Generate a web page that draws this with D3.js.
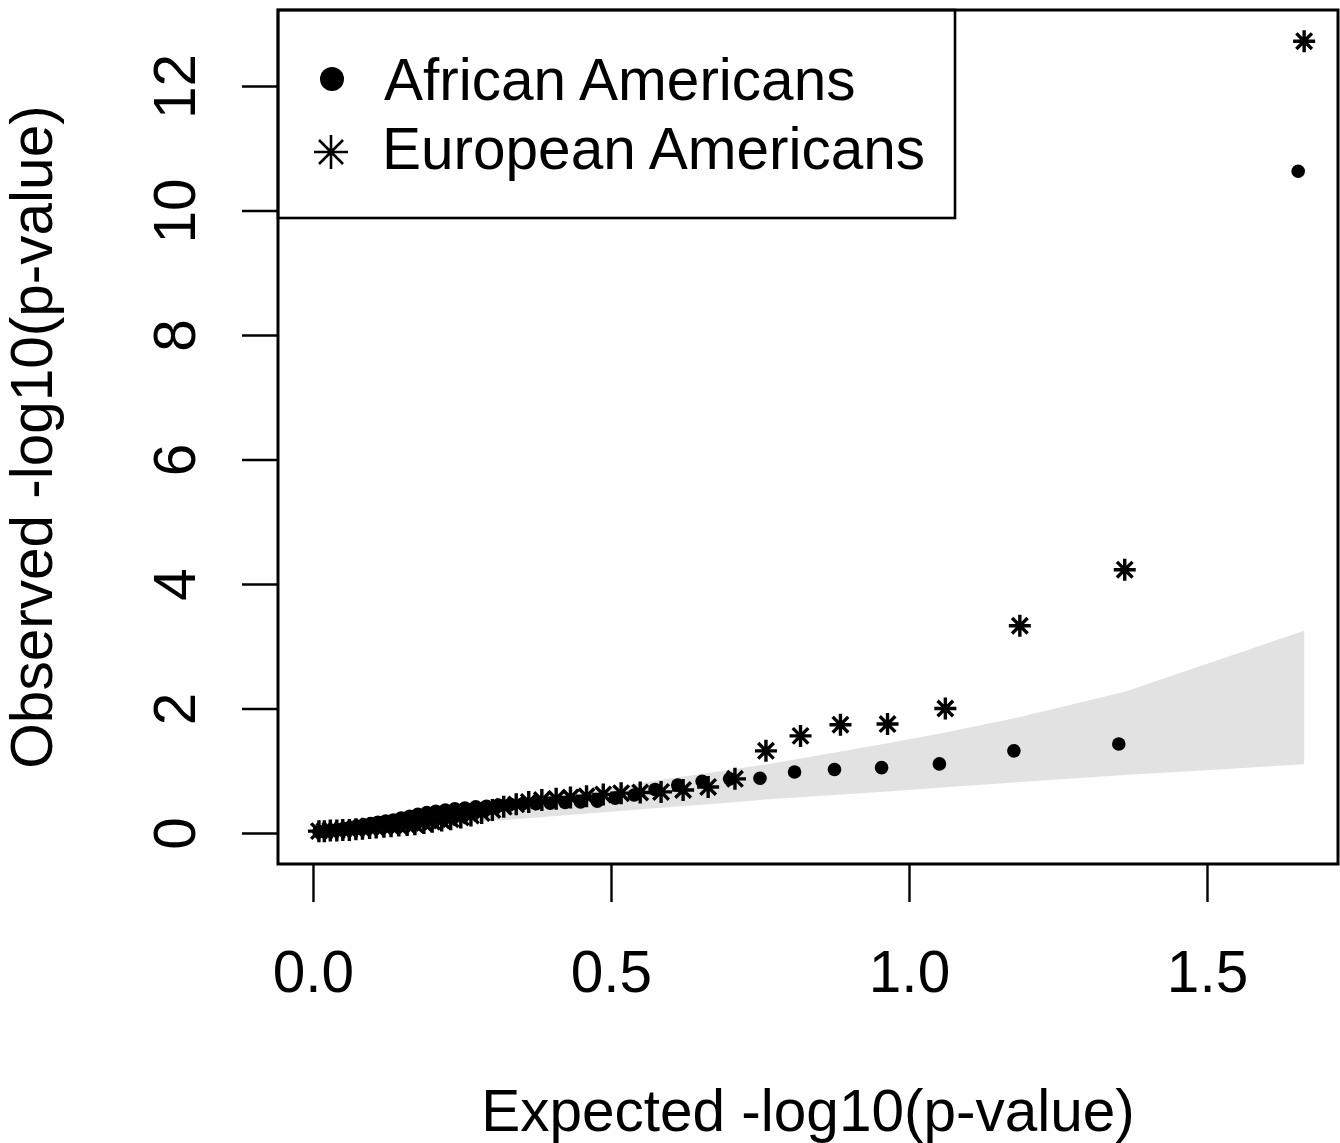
<!DOCTYPE html>
<html>
<head>
<meta charset="utf-8">
<script src="https://cdn.jsdelivr.net/npm/d3@7"></script>
<style>
  html, body { margin: 0; padding: 0; background: #fff; }
  svg { display: block; font-family: "Liberation Sans", Arial, Helvetica, sans-serif; }
</style>
</head>
<body>
<svg id="chart" width="1340" height="1143"></svg>
<script>
// ---- data ----
const seriesNames = ["African Americans", "European Americans"];

const aaExpected = [1.653,1.352,1.176,1.051,0.954,0.875,0.808,0.750,0.699,0.653,0.612,0.574,0.539,0.507,0.477,0.449,0.423,0.398,0.374,0.352,0.331,0.311,0.291,0.273,0.255,0.238,0.222,0.206,0.191,0.176,0.162,0.148,0.135,0.122,0.109,0.097,0.085,0.073,0.062,0.051,0.040,0.030,0.020,0.010];
const aaObserved = [10.63,1.43,1.32,1.11,1.05,1.02,0.98,0.88,0.87,0.83,0.77,0.70,0.61,0.56,0.51,0.50,0.49,0.48,0.47,0.47,0.46,0.45,0.43,0.42,0.40,0.39,0.37,0.35,0.33,0.30,0.27,0.24,0.21,0.19,0.17,0.15,0.13,0.11,0.09,0.07,0.05,0.04,0.03,0.02];

const eaExpected = [1.663,1.362,1.186,1.061,0.964,0.885,0.818,0.760,0.708,0.663,0.621,0.584,0.549,0.517,0.487,0.459,0.432,0.408,0.384,0.362,0.341,0.320,0.301,0.283,0.265,0.248,0.231,0.216,0.200,0.186,0.171,0.158,0.144,0.131,0.119,0.106,0.095,0.083,0.072,0.061,0.050,0.040,0.029,0.019,0.010];
const eaObserved = [12.72,4.23,3.33,2.00,1.75,1.74,1.56,1.32,0.87,0.74,0.69,0.66,0.65,0.64,0.62,0.59,0.57,0.55,0.53,0.50,0.46,0.42,0.37,0.32,0.28,0.25,0.22,0.20,0.18,0.16,0.14,0.13,0.12,0.11,0.10,0.09,0.08,0.07,0.06,0.05,0.05,0.04,0.04,0.03,0.03];

// grey 95% band
const bandExpected = [1.663,1.362,1.186,1.061,0.964,0.885,0.760,0.663,0.584,0.487,0.408,0.320,0.248,0.186,0.119,0.061,0.029,0.010];
const bandUpper    = [3.250,2.269,1.862,1.616,1.443,1.310,1.100,0.963,0.854,0.699,0.588,0.470,0.373,0.291,0.200,0.119,0.072,0.036];
const bandLower    = [1.104,0.930,0.818,0.736,0.668,0.619,0.538,0.462,0.404,0.332,0.272,0.207,0.152,0.107,0.059,0.022,0.006,0.000];

const xTicks = [0.0, 0.5, 1.0, 1.5];
const xTickLabels = ["0.0", "0.5", "1.0", "1.5"];
const yTicks = [0, 2, 4, 6, 8, 10, 12];
const yTickLabels = ["0", "2", "4", "6", "8", "10", "12"];
const xTitle = "Expected -log10(p-value)";
const yTitle = "Observed -log10(p-value)";

// ---- layout ----
const L = 278, R = 1338, T = 10, B = 864;
const FS = 58.5;
const svg = d3.select("#chart");
svg.append("rect").attr("width", 1340).attr("height", 1143).attr("fill", "#fff");

const x = d3.scaleLinear().domain([-0.0587, 1.7198]).range([L, R]);
const y = d3.scaleLinear().domain([-0.498, 13.221]).range([B, T]);

// band
const bandPts = bandExpected.map((e, i) => [e, bandUpper[i]])
  .concat(bandExpected.map((e, i) => [e, bandLower[i]]).reverse());
svg.append("path")
  .attr("d", d3.line().x(d => x(d[0])).y(d => y(d[1]))(bandPts) + "Z")
  .attr("fill", "#e2e2e2").attr("stroke", "none");

// asterisk path helper
function asterisk(r) {
  const d = r * Math.SQRT1_2;
  return `M${-r},0L${r},0M0,${-r}L0,${r}M${-d},${-d}L${d},${d}M${-d},${d}L${d},${-d}`;
}

// points
const aa = aaExpected.map((e, i) => ({ e, o: aaObserved[i] }));
const ea = eaExpected.map((e, i) => ({ e, o: eaObserved[i] }));

svg.append("g").selectAll("path").data(ea).join("path")
  .attr("transform", d => `translate(${x(d.e)},${y(d.o)})`)
  .attr("d", asterisk(11))
  .attr("stroke", "#000").attr("stroke-width", 3.4).attr("fill", "none");

svg.append("g").selectAll("circle").data(aa).join("circle")
  .attr("cx", d => x(d.e)).attr("cy", d => y(d.o)).attr("r", 6.8)
  .attr("fill", "#000");

// axes
const xAxis = svg.append("g").attr("transform", `translate(0,${B})`)
  .call(d3.axisBottom(x).tickValues(xTicks).tickSize(38).tickFormat((d, i) => xTickLabels[i]));
xAxis.select(".domain").remove();
xAxis.selectAll("line").attr("stroke", "#000").attr("stroke-width", 2.4);
xAxis.selectAll("text").attr("y", 128).attr("dy", 0)
  .attr("font-size", FS).attr("fill", "#000");

const yAxis = svg.append("g").attr("transform", `translate(${L},0)`)
  .call(d3.axisLeft(y).tickValues(yTicks).tickSize(36).tickFormat((d, i) => yTickLabels[i]));
yAxis.select(".domain").remove();
yAxis.selectAll("line").attr("stroke", "#000").attr("stroke-width", 2.4);
yAxis.selectAll("text")
  .attr("x", null).attr("dy", null)
  .attr("transform", "translate(-83,0) rotate(-90)")
  .attr("text-anchor", "middle")
  .attr("font-size", FS).attr("fill", "#000");
xAxis.attr("font-family", null).attr("font-size", null);
yAxis.attr("font-family", null).attr("font-size", null);

// frame
svg.append("rect").attr("x", L).attr("y", T).attr("width", R - L).attr("height", B - T)
  .attr("fill", "none").attr("stroke", "#000").attr("stroke-width", 3);

// titles
svg.append("text").attr("x", (L + R) / 2).attr("y", 1131).attr("text-anchor", "middle")
  .attr("font-size", FS).attr("fill", "#000").text(xTitle);
svg.append("text").attr("transform", `translate(52,${(T + B) / 2}) rotate(-90)`)
  .attr("text-anchor", "middle").attr("font-size", FS).attr("fill", "#000").text(yTitle);

// legend
const lg = svg.append("g");
lg.append("rect").attr("x", L).attr("y", T).attr("width", 677).attr("height", 208)
  .attr("fill", "none").attr("stroke", "#000").attr("stroke-width", 2.6);
lg.append("circle").attr("cx", 332).attr("cy", 79).attr("r", 12).attr("fill", "#000");
lg.append("path").attr("transform", "translate(331,152)").attr("d", asterisk(17))
  .attr("stroke", "#000").attr("stroke-width", 2.6).attr("fill", "none");
lg.append("text").attr("x", 384).attr("y", 100).attr("font-size", FS).attr("fill", "#000").text(seriesNames[0]);
lg.append("text").attr("x", 382).attr("y", 169).attr("font-size", FS).attr("fill", "#000").text(seriesNames[1]);
</script>
</body>
</html>
